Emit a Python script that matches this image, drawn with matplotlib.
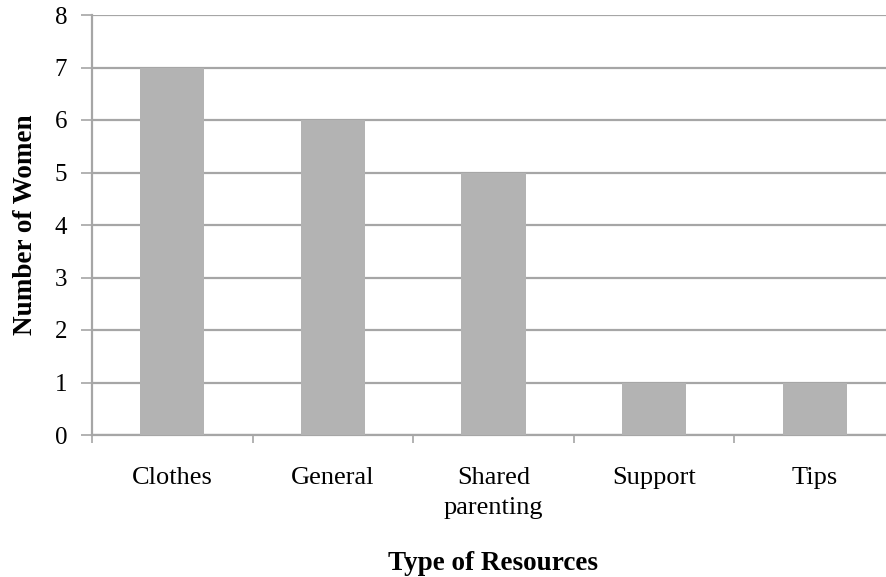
import matplotlib
matplotlib.use("Agg")
import matplotlib.pyplot as plt

categories = ["Clothes", "General", "Shared\nparenting", "Support", "Tips"]
counts = [7, 6, 5, 1, 1]
y_ticks = [0, 1, 2, 3, 4, 5, 6, 7, 8]

plt.rcParams["font.family"] = ["Liberation Serif", "DejaVu Serif"]

W, H = 886, 577
fig = plt.figure(figsize=(W / 100, H / 100), dpi=100)
ax = fig.add_axes([92 / W, (H - 435) / H, 803 / W, 420 / H])

x = list(range(len(categories)))
ax.bar(x, counts, width=0.4, color="#b3b3b3", zorder=3)

ax.set_xlim(-0.5, len(categories) - 0.5)
ax.set_ylim(0, 8)
ax.set_yticks(y_ticks)
ax.set_yticklabels([str(t) for t in y_ticks], fontsize=18)

ax.yaxis.grid(True, color="#a6a6a6", linewidth=1.6, zorder=0)
ax.set_axisbelow(True)

# category labels centred under the bars, ticks between categories
ax.set_xticks(x)
ax.set_xticklabels(categories, fontsize=19, linespacing=1.5)
ax.tick_params(axis="x", length=0, pad=23)
ax.set_xticks([i - 0.5 for i in range(len(categories) + 1)], minor=True)
ax.tick_params(axis="x", which="minor", length=6, width=1.2, color="#a6a6a6")
ax.tick_params(axis="y", length=8, width=1.2, color="#a6a6a6", pad=10)

for side in ["top", "right"]:
    ax.spines[side].set_visible(False)
for side in ["left", "bottom"]:
    ax.spines[side].set_color("#a6a6a6")
    ax.spines[side].set_linewidth(1.6)

ax.set_ylabel("Number of Women", fontsize=19.5, fontweight="bold", va="center")
ax.yaxis.set_label_coords(-0.083, 0.5)
ax.set_xlabel("Type of Resources", fontsize=19.5, fontweight="bold", va="center")
ax.xaxis.set_label_coords(0.5, -0.305)

fig.savefig("out.png", dpi=100)
